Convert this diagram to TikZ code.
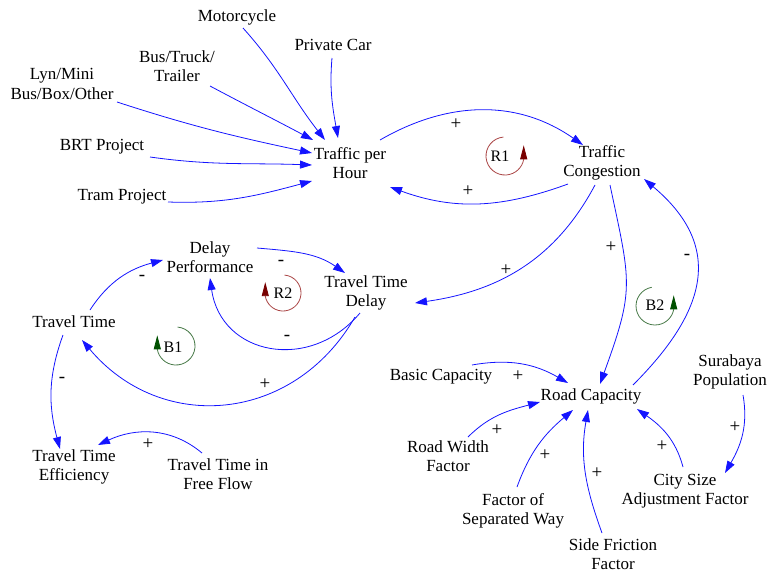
\documentclass[tikz,border=0pt]{standalone}
\usepackage{fontspec}
\setmainfont{Liberation Serif}
\usetikzlibrary{arrows.meta,calc}
\definecolor{lnkblue}{RGB}{20,20,255}
\definecolor{rloop}{RGB}{170,70,70}
\definecolor{rarrow}{RGB}{120,0,0}
\definecolor{bloop}{RGB}{70,120,70}
\definecolor{barrow}{RGB}{0,80,0}
\begin{document}
\begin{tikzpicture}[x=1pt,y=1pt,
  var/.style={align=center,inner sep=1pt,font=\fontsize{17}{19.5}\selectfont},
  lnk/.style={draw=lnkblue,line width=0.8pt,-{Triangle[length=12pt,width=8pt]}},
  sgn/.style={inner sep=0pt,font=\fontsize{19}{21}\selectfont},
  lp/.style={inner sep=0pt,font=\fontsize{16}{18}\selectfont},
  rl/.style={draw=rloop,line width=0.8pt,-{Triangle[length=14pt,width=7pt,color=rarrow]}},
  bl/.style={draw=bloop,line width=0.8pt,-{Triangle[length=14pt,width=7pt,color=barrow]}}]
\useasboundingbox (0,0) rectangle (769,-573);
% nodes
\node[var] (moto) at (237,-17) {Motorcycle};
\node[var] (car) at (333,-45) {Private Car};
\node[var] (bus) at (177,-66) {Bus/Truck/\\Trailer};
\node[var] (lyn) at (62,-84) {Lyn/Mini\\Bus/Box/Other};
\node[var] (brt) at (102,-147) {BRT Project};
\node[var] (tram) at (122,-197) {Tram Project};
\node[var] (tph) at (350,-163) {Traffic per\\Hour};
\node[var] (tc) at (602,-163) {Traffic\\Congestion};
\node[var] (dp) at (210,-257) {Delay\\Performance};
\node[var] (ttd) at (366,-293) {Travel Time\\Delay};
\node[var] (tt) at (74,-322) {Travel Time};
\node[var] (tte) at (74,-467) {Travel Time\\Efficiency};
\node[var] (ttff) at (218,-474) {Travel Time in\\Free Flow};
\node[var] (bc) at (441,-377) {Basic Capacity};
\node[var] (rc) at (591,-396) {Road Capacity};
\node[var] (rwf) at (448,-456) {Road Width\\Factor};
\node[var] (fsw) at (513,-511) {Factor of\\Separated Way};
\node[var] (sff) at (613,-554) {Side Friction\\Factor};
\node[var] (csa) at (685,-491) {City Size\\Adjustment Factor};
\node[var] (sur) at (730,-372) {Surabaya\\Population};
% connectors
\draw[lnk] ($(moto)+(6,-11)$) to[out=-48,in=128] ($(tph)+(-25,23)$);
\draw[lnk] ($(car)+(-1,-13)$) to[out=-95,in=100] ($(tph)+(-12,25)$);
\draw[lnk] ($(bus)+(33,-20)$) to[out=-28,in=152] ($(tph)+(-37,23)$);
\draw[lnk] ($(lyn)+(55,-18)$) to[out=-18,in=168] ($(tph)+(-38,10)$);
\draw[lnk] ($(brt)+(48,-10)$) to[out=-8,in=178] ($(tph)+(-38,-2)$);
\draw[lnk] ($(tram)+(46,-5)$) to[out=-2,in=195] ($(tph)+(-38,-18)$);
\draw[lnk] ($(tph)+(30,23)$) to[out=30,in=145] ($(tc)+(-19,18)$);
\node[sgn] (s1) at (456,-124) {+};
\draw[lnk] ($(tc)+(-34,-21)$) to[out=200,in=-20] ($(tph)+(40,-24)$);
\node[sgn] (s2) at (468,-191) {+};
\draw[lnk] ($(tc)+(-7,-22)$) to[out=-118,in=8] ($(ttd)+(49,-10)$);
\node[sgn] (s3) at (506,-270) {+};
\draw[lnk] ($(tc)+(8,-22)$) to[out=-78,in=70,looseness=1.3] ($(rc)+(9,12)$);
\node[sgn] (s4) at (611,-247) {+};
\draw[lnk] ($(rc)+(42,11)$) to[out=45,in=-40,looseness=1.3] ($(tc)+(42,-16)$);
\node[sgn] (s5) at (687,-257) {-};
\draw[lnk] ($(dp)+(47,9)$) to[out=-5,in=145] ($(ttd)+(-21,20)$);
\node[sgn] (s6) at (281,-263) {-};
\draw[lnk] ($(ttd)+(-6,-20)$) to[out=-130,in=-82,looseness=1.3] ($(dp)+(0,-21)$);
\node[sgn] (s7) at (287,-338) {-};
\draw[lnk] ($(ttd)+(-11,-24)$) to[out=-120,in=-50,looseness=1.15] ($(tt)+(8,-18)$);
\node[sgn] (s8) at (265,-384) {+};
\draw[lnk] ($(tt)+(16,12)$) to[out=57,in=195] ($(dp)+(-47,-3)$);
\node[sgn] (s9) at (142,-278) {-};
\draw[lnk] ($(tt)+(-11,-13)$) to[out=-110,in=105] ($(tte)+(-14,18)$);
\node[sgn] (s10) at (62,-380) {-};
\draw[lnk] ($(ttff)+(-16,21)$) to[out=140,in=25] ($(tte)+(24,22)$);
\node[sgn] (s11) at (148,-444) {+};
\draw[lnk] ($(bc)+(31,12)$) to[out=10,in=150] ($(rc)+(-23,13)$);
\node[sgn] (s12) at (518,-376) {+};
\draw[lnk] ($(rwf)+(20,19)$) to[out=45,in=195] ($(rc)+(-51,-6)$);
\node[sgn] (s13) at (497,-430) {+};
\draw[lnk] ($(fsw)+(4,24)$) to[out=70,in=220] ($(rc)+(-18,-14)$);
\node[sgn] (s14) at (545,-455) {+};
\draw[lnk] ($(sff)+(-11,21)$) to[out=110,in=-100] ($(rc)+(-3,-14)$);
\node[sgn] (s15) at (597,-473) {+};
\draw[lnk] ($(csa)+(-2,24)$) to[out=105,in=-35] ($(rc)+(46,-13)$);
\node[sgn] (s16) at (662,-446) {+};
\draw[lnk] ($(sur)+(13,-23)$) to[out=-80,in=60] ($(csa)+(40,18)$);
\node[sgn] (s17) at (735,-427) {+};
% loop markers
\node[lp] (r1) at (500,-156) {R1};
\draw[rl] ($(r1)+(5,0)+(95:19)$) arc[start angle=95,end angle=350,radius=19] -- ++(0,14);
\node[lp] (r2) at (283,-293) {R2};
\draw[rl] ($(r2)+(0,0)+(85:18)$) arc[start angle=85,end angle=-170,radius=18] -- ++(0,14);
\node[lp] (b1) at (173,-347) {B1};
\draw[bl] ($(b1)+(3,1)+(85:19)$) arc[start angle=85,end angle=-170,radius=19] -- ++(0,14);
\node[lp] (b2) at (655,-305) {B2};
\draw[bl] ($(b2)+(0,-1)+(100:19)$) arc[start angle=100,end angle=350,radius=19] -- ++(0,14);
\end{tikzpicture}
\end{document}
